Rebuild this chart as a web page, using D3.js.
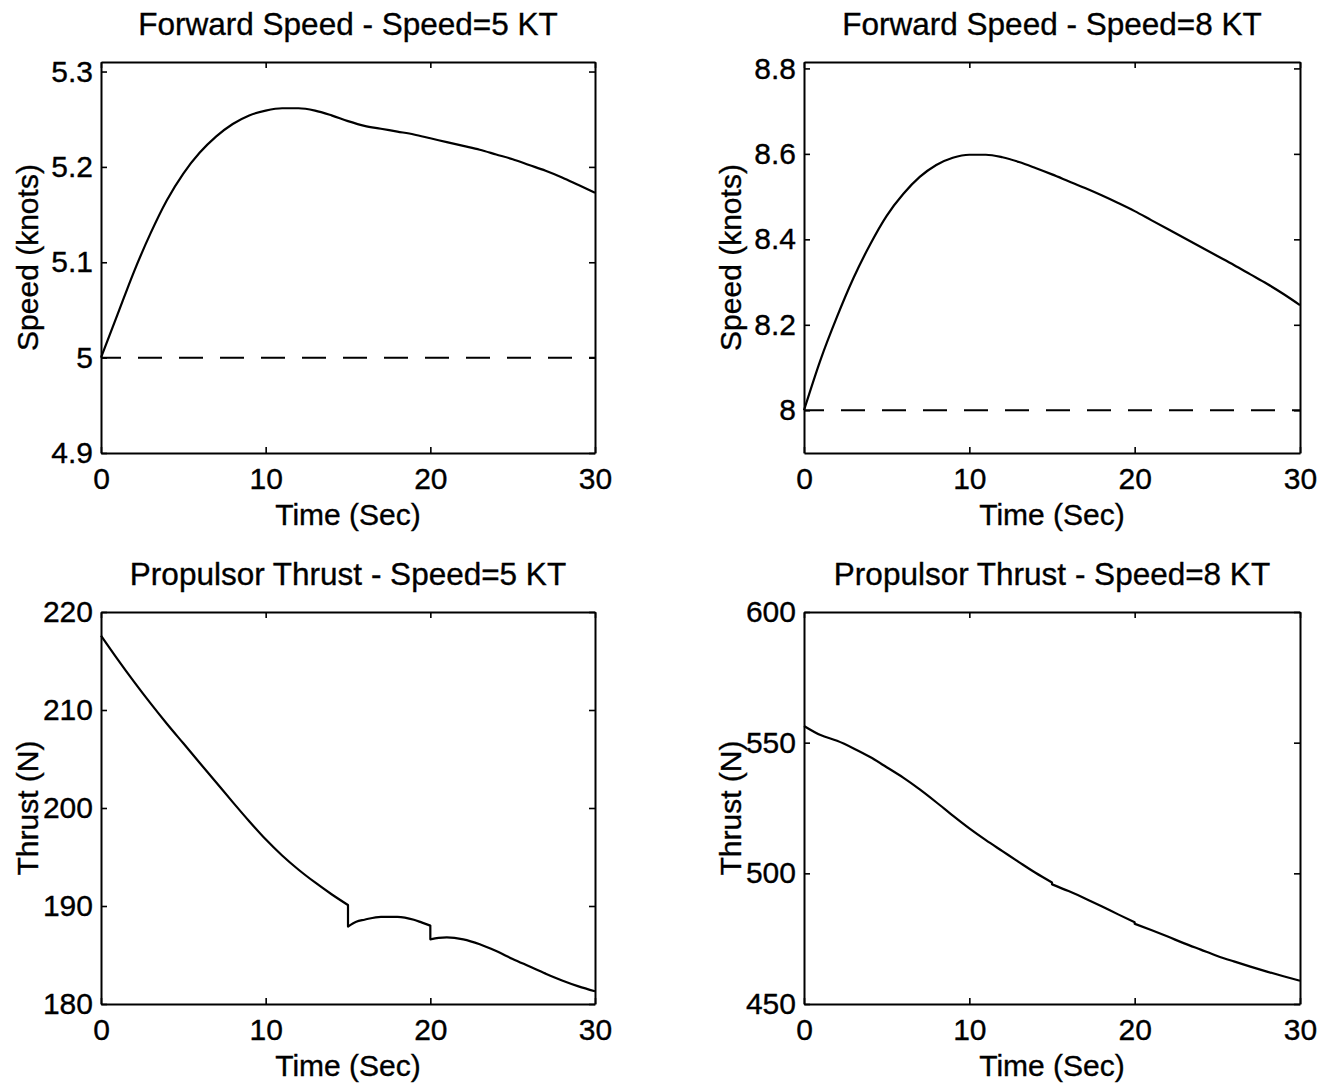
<!DOCTYPE html>
<html>
<head>
<meta charset="utf-8">
<script src="https://cdn.jsdelivr.net/npm/d3@7"></script>
<style>
  html, body { margin: 0; padding: 0; background: #fff; }
  svg { display: block; }
  text { font-family: "Liberation Sans", Arial, Helvetica, sans-serif; fill: #000; stroke: #000; stroke-width: 0.35px; }
</style>
</head>
<body>
<svg id="chart" width="1328" height="1084"></svg>
<script>
// ---- Simulation results (time in seconds) ----
const timeSec = [0,1,2,3,4,5,6,7,8,9,10,11,12,13,14,15,16,17,18,19,20,21,22,23,24,25,26,27,28,29,30];

// Forward speed response, commanded 5 KT
const speed5 = [5.000,5.045,5.090,5.130,5.165,5.193,5.215,5.232,5.245,5.254,5.259,5.2615,5.2615,5.259,5.254,5.248,5.243,5.240,5.237,5.234,5.230,5.226,5.222,5.218,5.213,5.208,5.202,5.196,5.189,5.181,5.173];

// Forward speed response, commanded 8 KT
const speed8 = [8.000,8.118,8.219,8.310,8.388,8.455,8.506,8.546,8.574,8.591,8.598,8.598,8.592,8.581,8.567,8.552,8.536,8.520,8.503,8.485,8.466,8.445,8.424,8.403,8.382,8.361,8.340,8.318,8.296,8.272,8.246];

// Commanded speeds (dashed reference lines)
const commandSpeed = [5, 8];

// Propulsor thrust at 5 KT (repeated times mark the step changes)
const thrustTime5 = [0,1,2,3,4,5,6,7,8,9,10,11,12,13,14,15,15,15.5,16,17,18,19,19.5,20,20,20.5,21,22,23,24,25,26,27,28,29,30];
const thrust5 = [217.6,215.2,212.9,210.7,208.6,206.6,204.6,202.6,200.6,198.65,196.8,195.15,193.7,192.4,191.2,190.1,187.9,188.4,188.6,188.9,188.9,188.6,188.3,188.0,186.6,186.75,186.8,186.6,186.1,185.4,184.6,183.85,183.1,182.4,181.8,181.3];

// Propulsor thrust at 8 KT
const thrustTime8 = [0,1,2,3,4,5,6,7,8,9,10,11,12,13,14,15,15,16,17,18,19,20,20,21,22,23,24,25,26,27,28,29,30];
const thrust8 = [556.4,552.9,550.7,547.8,544.5,540.6,536.6,532.1,527.2,522.1,517.2,512.7,508.5,504.3,500.2,496.5,495.8,493.2,490.4,487.4,484.3,481.3,480.7,478.3,475.8,473.2,470.8,468.4,466.3,464.3,462.4,460.6,458.9];

// Axis ticks
const timeTicks = [0, 10, 20, 30];
const speed5Ticks = [4.9, 5.0, 5.1, 5.2, 5.3];
const speed8Ticks = [8.0, 8.2, 8.4, 8.6, 8.8];
const thrust5Ticks = [180, 190, 200, 210, 220];
const thrust8Ticks = [450, 500, 550, 600];

// Titles and labels
const titles = [
  "Forward Speed - Speed=5 KT",
  "Forward Speed - Speed=8 KT",
  "Propulsor Thrust - Speed=5 KT",
  "Propulsor Thrust - Speed=8 KT"
];
const xLabel = "Time (Sec)";
const yLabels = ["Speed (knots)", "Speed (knots)", "Thrust (N)", "Thrust (N)"];

// ---- Panel definitions ----
const panels = [
  { box: [101, 62, 595, 453],  t: timeSec,     v: speed5,  yDomain: [4.9, 5.31],   ticks: speed5Ticks,  fmt: d3.format("~g"), ref: commandSpeed[0], title: titles[0], yLabel: yLabels[0] },
  { box: [804, 62, 1300, 453], t: timeSec,     v: speed8,  yDomain: [7.9, 8.815],  ticks: speed8Ticks,  fmt: d3.format("~g"), ref: commandSpeed[1], title: titles[1], yLabel: yLabels[1] },
  { box: [101, 612, 595, 1004], t: thrustTime5, v: thrust5, yDomain: [180, 220],   ticks: thrust5Ticks, fmt: d3.format("d"),  ref: null, title: titles[2], yLabel: yLabels[2] },
  { box: [804, 612, 1300, 1004], t: thrustTime8, v: thrust8, yDomain: [450, 600],  ticks: thrust8Ticks, fmt: d3.format("d"),  ref: null, title: titles[3], yLabel: yLabels[3] }
];

const svg = d3.select("#chart");
const TICK = 6;

// Smooth path through a series; repeated times become vertical steps.
function stepAwarePath(xs, ys, x, y) {
  const segs = [];
  let cur = [];
  xs.forEach((t, i) => {
    if (cur.length && t === cur[cur.length - 1][0]) { segs.push(cur); cur = []; }
    cur.push([t, ys[i]]);
  });
  if (cur.length) segs.push(cur);
  const gen = d3.line().x(d => x(d[0])).y(d => y(d[1])).curve(d3.curveMonotoneX);
  return segs.map((s, i) => {
    const p = gen(s);
    return i === 0 ? p : "L" + p.slice(1);
  }).join("");
}

panels.forEach(p => {
  const [x0, y0, x1, y1] = p.box;
  const x = d3.scaleLinear().domain([0, 30]).range([x0, x1]);
  const y = d3.scaleLinear().domain(p.yDomain).range([y1, y0]);
  const g = svg.append("g");

  // Axes with inward ticks on all four sides
  const axes = [
    { gen: d3.axisBottom(x).tickValues(timeTicks).tickFormat(d3.format("d")).tickPadding(15), tr: `translate(0,${y1})` },
    { gen: d3.axisTop(x).tickValues(timeTicks).tickFormat(""), tr: `translate(0,${y0})` },
    { gen: d3.axisLeft(y).tickValues(p.ticks).tickFormat(p.fmt).tickPadding(8), tr: `translate(${x0},0)` },
    { gen: d3.axisRight(y).tickValues(p.ticks).tickFormat(""), tr: `translate(${x1},0)` }
  ];
  axes.forEach(a => {
    const ag = g.append("g")
      .attr("transform", a.tr)
      .call(a.gen.tickSizeInner(-TICK).tickSizeOuter(0));
    ag.select(".domain").attr("stroke", "#000").attr("stroke-width", 2);
    ag.selectAll(".tick line").attr("stroke", "#000").attr("stroke-width", 1.6);
    ag.selectAll(".tick text")
      .style("font-family", '"Liberation Sans", Arial, Helvetica, sans-serif')
      .style("font-size", "30px")
      .attr("fill", "#000");
  });

  // Commanded speed reference
  if (p.ref !== null) {
    g.append("path")
      .attr("d", d3.line().x(d => x(d[0])).y(d => y(d[1]))([[0, p.ref], [30, p.ref]]))
      .attr("fill", "none")
      .attr("stroke", "#000")
      .attr("stroke-width", 2)
      .attr("stroke-dasharray", "24,17")
      .attr("stroke-dashoffset", 4);
  }

  // Response curve
  g.append("path")
    .attr("d", stepAwarePath(p.t, p.v, x, y))
    .attr("fill", "none")
    .attr("stroke", "#000")
    .attr("stroke-width", 2.2)
    .attr("stroke-linejoin", "round");

  // Title
  g.append("text")
    .attr("x", (x0 + x1) / 2)
    .attr("y", y0 - 27)
    .attr("text-anchor", "middle")
    .style("font-size", "31.5px")
    .text(p.title);

  // X label
  g.append("text")
    .attr("x", (x0 + x1) / 2)
    .attr("y", y1 + 72)
    .attr("text-anchor", "middle")
    .style("font-size", "30px")
    .text(xLabel);

  // Y label
  g.append("text")
    .attr("transform", `translate(${x0 - 63},${(y0 + y1) / 2}) rotate(-90)`)
    .attr("text-anchor", "middle")
    .style("font-size", "30px")
    .text(p.yLabel);
});
</script>
</body>
</html>
